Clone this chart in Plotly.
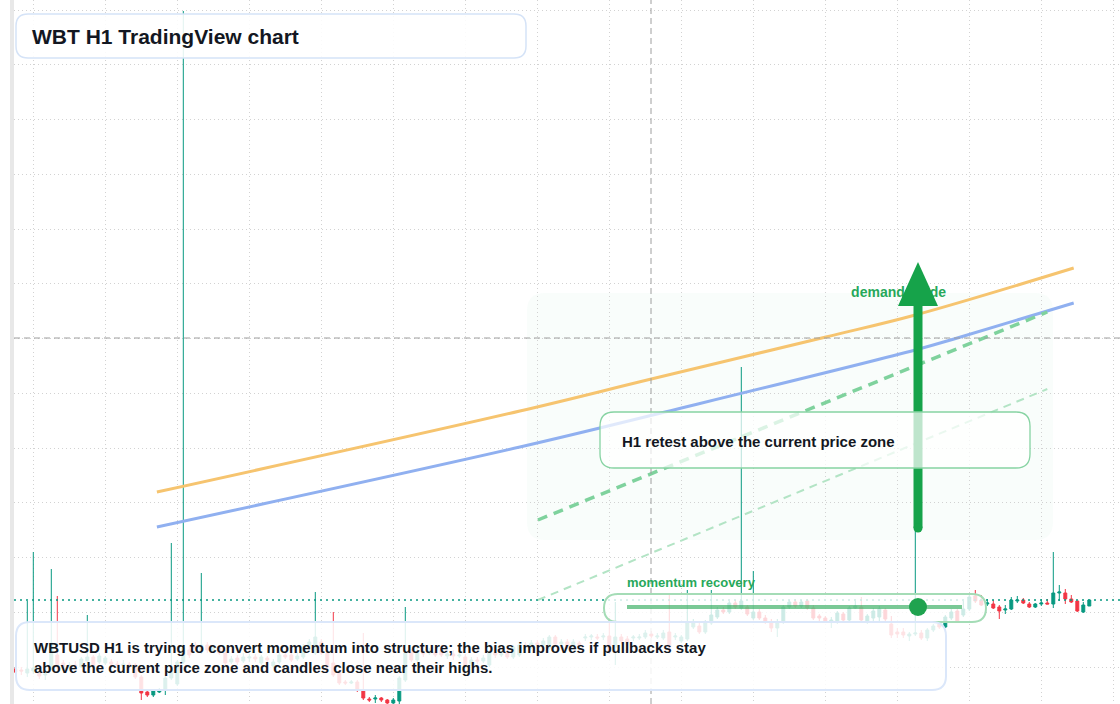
import plotly.graph_objects as go

# ---------------- data (H1 candles, WBTUSD) ----------------
candle_open = [
    54.31, 54.30, 54.27, 54.29, 54.27, 54.25, 54.32, 54.45, 54.37, 54.33,
    54.35, 54.33, 54.39, 54.43, 54.38, 54.37, 54.38, 54.36, 54.34, 54.36,
    54.35, 54.23, 54.08, 54.05, 54.08, 54.10, 54.22, 54.16, 54.38, 54.50,
    54.55, 54.48, 54.55, 54.50, 54.52, 54.47, 54.38, 54.42, 54.39, 54.42,
    54.43, 54.37, 54.42, 54.34, 54.38, 54.45, 54.45, 54.41, 54.43, 54.53,
    54.47, 54.58, 54.47, 54.37, 54.28, 54.18, 54.17, 54.18, 54.10, 54.01,
    54.01, 54.02, 54.00, 53.97, 53.99, 54.20, 54.48, 54.40, 54.48, 54.47,
    54.48, 54.50, 54.44, 54.46, 54.44, 54.43, 54.36, 54.40, 54.39, 54.35,
    54.47, 54.45, 54.48, 54.43, 54.45, 54.55, 54.53, 54.57, 54.55, 54.52,
    54.63, 54.56, 54.58, 54.54, 54.57, 54.62, 54.63, 54.63, 54.63, 54.64,
    54.53, 54.63, 54.61, 54.62, 54.62, 54.63, 54.66, 54.63, 54.62, 54.68,
    54.63, 54.59, 54.61, 54.73, 54.74, 54.68, 54.77, 54.83, 54.90, 54.88,
    54.97, 54.92, 54.93, 54.82, 54.88, 54.82, 54.78, 54.72, 54.78, 54.93,
    54.98, 54.94, 54.99, 54.92, 54.84, 54.82, 54.78, 54.78, 54.86, 54.80,
    54.92, 54.93, 54.78, 54.82, 54.83, 54.90, 54.76, 54.68, 54.68, 54.64,
    54.66, 54.67, 54.62, 54.70, 54.76, 54.73, 54.82, 54.89, 54.85, 54.91,
    55.04, 55.00, 54.96, 54.96, 54.93, 54.90, 54.91, 54.99, 55.00, 54.96,
    54.93, 54.96, 54.97, 54.96, 55.07, 55.07, 55.01, 54.99, 54.88, 54.94,
]
candle_high = [
    54.33, 54.33, 54.99, 55.48, 54.29, 54.29, 55.31, 55.04, 54.40, 54.38,
    54.39, 54.43, 54.85, 54.45, 54.47, 54.44, 54.41, 54.39, 54.40, 54.38,
    54.37, 54.25, 54.10, 54.10, 54.12, 54.24, 55.57, 54.40, 60.89, 54.54,
    54.58, 55.27, 54.58, 54.55, 54.54, 54.50, 54.44, 54.45, 54.47, 54.46,
    54.46, 54.45, 54.44, 54.41, 54.48, 54.48, 54.47, 54.48, 54.56, 54.61,
    55.08, 54.61, 54.50, 54.88, 54.30, 54.20, 54.20, 54.20, 54.67, 54.03,
    54.05, 54.03, 54.01, 54.02, 54.24, 54.93, 54.51, 54.52, 54.50, 54.52,
    54.51, 54.55, 54.49, 54.50, 54.49, 54.46, 54.43, 54.43, 54.45, 54.50,
    54.50, 54.49, 54.51, 54.55, 54.58, 54.58, 54.60, 54.60, 54.62, 54.65,
    54.65, 54.61, 54.61, 54.61, 54.59, 54.66, 54.66, 54.66, 54.67, 54.82,
    54.98, 54.66, 54.64, 54.65, 54.66, 54.70, 54.69, 54.67, 54.70, 55.05,
    54.67, 54.65, 55.10, 54.81, 54.77, 54.80, 55.10, 54.93, 54.93, 54.99,
    55.00, 57.33, 54.95, 55.29, 54.91, 54.85, 54.81, 54.81, 54.95, 55.00,
    55.01, 55.00, 55.01, 54.95, 54.86, 54.84, 54.83, 54.89, 54.88, 54.94,
    54.99, 55.03, 54.86, 54.92, 54.94, 54.92, 54.84, 54.72, 54.72, 54.68,
    55.70, 54.70, 54.72, 54.76, 54.78, 54.85, 54.91, 54.91, 54.99, 55.05,
    55.10, 55.05, 55.01, 55.00, 54.95, 54.95, 55.03, 55.04, 55.02, 54.98,
    54.97, 55.01, 55.01, 55.48, 55.15, 55.11, 55.05, 54.99, 54.98, 55.00,
]
candle_low = [
    54.27, 54.25, 54.23, 54.26, 54.21, 54.20, 54.30, 54.31, 54.30, 54.31,
    54.32, 54.32, 54.37, 54.32, 54.36, 54.35, 54.33, 54.32, 54.32, 54.30,
    54.21, 54.00, 54.03, 54.03, 54.07, 54.05, 54.20, 54.14, 54.36, 54.42,
    54.49, 54.46, 54.47, 54.48, 54.45, 54.34, 54.36, 54.35, 54.37, 54.38,
    54.38, 54.35, 54.37, 54.32, 54.36, 54.41, 54.38, 54.39, 54.41, 54.50,
    54.45, 54.45, 54.31, 54.23, 54.15, 54.15, 54.16, 54.08, 54.00, 53.98,
    53.97, 53.98, 53.96, 53.96, 53.96, 54.18, 54.38, 54.38, 54.43, 54.45,
    54.43, 54.43, 54.41, 54.40, 54.42, 54.33, 54.34, 54.36, 54.37, 54.33,
    54.42, 54.43, 54.41, 54.41, 54.43, 54.50, 54.51, 54.52, 54.53, 54.50,
    54.54, 54.54, 54.51, 54.52, 54.53, 54.59, 54.60, 54.60, 54.60, 54.46,
    54.35, 54.56, 54.56, 54.59, 54.60, 54.61, 54.62, 54.61, 54.60, 54.51,
    54.60, 54.57, 54.59, 54.71, 54.66, 54.66, 54.75, 54.81, 54.86, 54.86,
    54.91, 54.90, 54.84, 54.80, 54.80, 54.76, 54.68, 54.63, 54.76, 54.91,
    54.92, 54.92, 54.90, 54.80, 54.79, 54.77, 54.72, 54.76, 54.78, 54.78,
    54.91, 54.77, 54.76, 54.79, 54.79, 54.77, 54.62, 54.62, 54.62, 54.59,
    54.64, 54.60, 54.59, 54.68, 54.71, 54.72, 54.80, 54.77, 54.83, 54.89,
    54.97, 54.94, 54.94, 54.91, 54.81, 54.86, 54.90, 54.97, 54.96, 54.92,
    54.92, 54.94, 54.96, 54.92, 54.99, 54.96, 54.97, 54.88, 54.87, 54.94,
]
candle_close = [
    54.28, 54.29, 54.31, 54.32, 54.24, 54.26, 54.57, 54.33, 54.33, 54.35,
    54.34, 54.41, 54.43, 54.34, 54.44, 54.42, 54.36, 54.35, 54.36, 54.35,
    54.23, 54.07, 54.05, 54.09, 54.10, 54.22, 54.30, 54.38, 54.52, 54.45,
    54.52, 54.55, 54.50, 54.52, 54.47, 54.37, 54.41, 54.38, 54.43, 54.43,
    54.41, 54.43, 54.40, 54.38, 54.45, 54.43, 54.40, 54.44, 54.53, 54.58,
    54.63, 54.47, 54.33, 54.25, 54.17, 54.17, 54.18, 54.10, 54.02, 54.00,
    54.02, 54.00, 53.97, 54.00, 54.22, 54.47, 54.40, 54.48, 54.46, 54.48,
    54.45, 54.45, 54.46, 54.44, 54.45, 54.35, 54.40, 54.39, 54.42, 54.47,
    54.45, 54.46, 54.43, 54.53, 54.55, 54.53, 54.57, 54.55, 54.59, 54.63,
    54.56, 54.58, 54.53, 54.58, 54.55, 54.63, 54.64, 54.62, 54.64, 54.48,
    54.63, 54.59, 54.58, 54.63, 54.63, 54.67, 54.64, 54.64, 54.67, 54.53,
    54.64, 54.63, 54.78, 54.78, 54.68, 54.78, 54.85, 54.90, 54.88, 54.97,
    54.93, 54.99, 54.86, 54.88, 54.82, 54.78, 54.72, 54.78, 54.93, 54.98,
    54.94, 54.98, 54.92, 54.82, 54.82, 54.79, 54.80, 54.87, 54.80, 54.92,
    54.94, 54.80, 54.84, 54.89, 54.91, 54.81, 54.65, 54.66, 54.65, 54.66,
    54.67, 54.62, 54.70, 54.74, 54.73, 54.83, 54.88, 54.78, 54.91, 55.03,
    54.99, 54.95, 54.97, 54.92, 54.89, 54.91, 55.00, 55.00, 54.97, 54.93,
    54.96, 54.97, 54.96, 55.07, 55.08, 55.01, 54.98, 54.89, 54.95, 55.00,
]
assert len(candle_open) == len(candle_high) == len(candle_low) == len(candle_close) == 180
bar_index = list(range(len(candle_open)))

# projection / average lines (bar index, price)
ema_fast_x = [23.6, 84.1, 106.0, 135.1, 150.0, 176.4]
ema_fast_y = [56.08, 56.89, 57.21, 57.63, 57.85, 58.32]
ema_slow_x = [23.6, 84.1, 108.3, 150.0, 157.0, 176.4]
ema_slow_y = [55.73, 56.53, 56.88, 57.50, 57.62, 57.97]
guide_x = [87.1, 172.0]
guide_upper = [55.80, 57.88]
guide_lower = [55.00, 57.11]

# texts
title_text = "WBT H1 TradingView chart"
note_lines = ["WBTUSD H1 is trying to convert momentum into structure; the bias improves if pullbacks stay",
              "above the current price zone and candles close near their highs."]
retest_text = "H1 retest above the current price zone"
pill_text = "momentum recovery"
guide_text = "demand guide"

# ---------------- figure ----------------
W, H = 1120, 704
ML = 14
FONT = "Liberation Sans, Arial, sans-serif"
DARK = "#131722"
GREEN_TXT = "#27a85a"


def P(x, y):
    """pixel -> paper coords"""
    return (x - ML) / (W - ML), 1 - y / H


def rrect(x0, y0, x1, y1, r):
    def f(x, y):
        a, b = P(x, y)
        return f"{a:.5f},{b:.5f}"
    d = (f"M{f(x0 + r, y0)} L{f(x1 - r, y0)} Q{f(x1, y0)} {f(x1, y0 + r)} "
         f"L{f(x1, y1 - r)} Q{f(x1, y1)} {f(x1 - r, y1)} L{f(x0 + r, y1)} "
         f"Q{f(x0, y1)} {f(x0, y1 - r)} L{f(x0, y0 + r)} Q{f(x0, y0)} {f(x0 + r, y0)} Z")
    return d


fig = go.Figure()

fig.add_trace(go.Scatter(
    x=ema_fast_x, y=ema_fast_y, mode="lines", line=dict(color="#f6c46f", width=3, shape="spline"),
    hoverinfo="skip", showlegend=False))
fig.add_trace(go.Scatter(
    x=ema_slow_x, y=ema_slow_y, mode="lines", line=dict(color="#90b0f0", width=3, shape="spline"),
    hoverinfo="skip", showlegend=False))
fig.add_trace(go.Scatter(
    x=guide_x, y=guide_lower, mode="lines", line=dict(color="#b3e4c5", width=2, dash="8px,6px"),
    hoverinfo="skip", showlegend=False))
fig.add_trace(go.Scatter(
    x=guide_x, y=guide_upper, mode="lines", line=dict(color="#7fd29d", width=3.5, dash="10px,7px"),
    hoverinfo="skip", showlegend=False))

fig.add_trace(go.Candlestick(
    x=bar_index, open=candle_open, high=candle_high, low=candle_low, close=candle_close,
    increasing=dict(line=dict(color="#089981", width=1), fillcolor="#089981"),
    decreasing=dict(line=dict(color="#f23645", width=1), fillcolor="#f23645"),
    whiskerwidth=0, hoverinfo="skip", showlegend=False))

fig.add_trace(go.Scatter(
    x=[139.3], y=[58.07], mode="text", text=[f"<b>{guide_text}</b>"], textposition="middle right",
    textfont=dict(family=FONT, size=14, color=GREEN_TXT), hoverinfo="skip", showlegend=False))

shapes = []
# green demand zone
shapes.append(dict(type="path", xref="paper", yref="paper", path=rrect(527, 293, 1053, 540, 18),
                   fillcolor="rgba(34,197,94,0.028)", line=dict(width=0), layer="between"))
# crosshair
cx0, _ = P(651, 0)
shapes.append(dict(type="line", xref="paper", yref="paper", x0=cx0, x1=cx0, y0=0, y1=1,
                   line=dict(color="#9e9e9e", width=1, dash="6px,4px"), layer="above"))
_, cy0 = P(0, 338)
shapes.append(dict(type="line", xref="paper", yref="paper", x0=0, x1=1, y0=cy0, y1=cy0,
                   line=dict(color="#9e9e9e", width=1, dash="6px,4px"), layer="above"))
# last price line
shapes.append(dict(type="line", xref="paper", yref="y", x0=0, x1=1, y0=candle_close[-1], y1=candle_close[-1],
                   line=dict(color="#089981", width=1.3, dash="2px,4px"), layer="above"))
# arrow
ax, ay_bot = P(918, 528)
_, ay_top = P(918, 300)
shapes.append(dict(type="line", xref="paper", yref="paper", x0=ax, x1=ax, y0=ay_bot, y1=ay_top,
                   line=dict(color="#16a34a", width=9), layer="above"))
c0x, c0y = P(913.5, 523.5)
c1x, c1y = P(922.5, 532.5)
shapes.append(dict(type="circle", xref="paper", yref="paper", x0=c0x, x1=c1x, y0=c1y, y1=c0y,
                   fillcolor="#16a34a", line=dict(width=0), layer="above"))
h1 = P(898, 306); h2 = P(938, 306); h3 = P(918, 262)
shapes.append(dict(type="path", xref="paper", yref="paper",
                   path=f"M{h1[0]:.5f},{h1[1]:.5f} L{h2[0]:.5f},{h2[1]:.5f} L{h3[0]:.5f},{h3[1]:.5f} Z",
                   fillcolor="#16a34a", line=dict(width=0), layer="above"))
# retest box
shapes.append(dict(type="path", xref="paper", yref="paper", path=rrect(600, 412, 1030, 468, 14),
                   fillcolor="rgba(255,255,255,0.72)", line=dict(color="#86d3a2", width=1.3), layer="above"))
# momentum pill
shapes.append(dict(type="path", xref="paper", yref="paper", path=rrect(604, 594, 986, 622, 14),
                   fillcolor="rgba(255,255,255,0.8)", line=dict(color="#a4dcb6", width=2), layer="above"))
l0 = P(627, 607); l1 = P(962, 607)
shapes.append(dict(type="line", xref="paper", yref="paper", x0=l0[0], x1=l1[0], y0=l0[1], y1=l1[1],
                   line=dict(color="rgba(34,165,80,0.6)", width=4), layer="above"))
d0 = P(909, 598); d1 = P(927, 616)
shapes.append(dict(type="circle", xref="paper", yref="paper", x0=d0[0], x1=d1[0], y0=d1[1], y1=d0[1],
                   fillcolor="#1fa34f", line=dict(width=0), layer="above"))
# bottom note box
shapes.append(dict(type="path", xref="paper", yref="paper", path=rrect(16, 622, 946, 690, 14),
                   fillcolor="rgba(255,255,255,0.86)", line=dict(color="#dbe7fa", width=2), layer="above"))
# title box
shapes.append(dict(type="path", xref="paper", yref="paper", path=rrect(16, 14, 526, 58, 12),
                   fillcolor="rgba(255,255,255,0.88)", line=dict(color="#d5e3f7", width=1.5), layer="above"))
# left strip
s0 = P(10, 0); s1 = P(14, 704)
shapes.append(dict(type="rect", xref="paper", yref="paper", x0=s0[0], x1=s1[0], y0=s1[1], y1=s0[1],
                   fillcolor="#e8e8e8", line=dict(width=0), layer="above"))

annotations = []
def add_text(x, y, text, size, color):
    px_, py_ = P(x - 2, y)
    annotations.append(dict(xref="paper", yref="paper", x=px_, y=py_, text=text, showarrow=False,
                            xanchor="left", yanchor="middle", align="left",
                            font=dict(family=FONT, size=size, color=color)))

add_text(32, 36, f"<b>{title_text}</b>", 21, DARK)
add_text(34, 657.5, "<b>" + "<br>".join(note_lines) + "</b>", 15, DARK)
add_text(622, 441, f"<b>{retest_text}</b>", 15, DARK)
add_text(627, 582, f"<b>{pill_text}</b>", 13, GREEN_TXT)

fig.update_layout(
    width=W, height=H,
    margin=dict(l=ML, r=0, t=0, b=0),
    paper_bgcolor="white", plot_bgcolor="white",
    shapes=shapes, annotations=annotations,
    showlegend=False, hovermode=False,
    xaxis=dict(range=[(ML - 15.3) / 6, (W - 15.3) / 6], showgrid=True, gridcolor="#d2d2d2",
               griddash="1px,3px", gridwidth=1, tick0=2.95, dtick=12, showticklabels=False,
               zeroline=False, showline=False, ticks="", rangeslider=dict(visible=False), fixedrange=True),
    yaxis=dict(range=[61.0 - H / 100, 61.0], showgrid=True, gridcolor="#d2d2d2", griddash="1px,3px",
               gridwidth=1, tick0=60.90, dtick=0.5475, showticklabels=False, zeroline=False,
               showline=False, ticks="", fixedrange=True),
)

fig.write_html("out.html", config={"displayModeBar": False},
               post_script="document.body.style.margin='0';document.body.style.overflow='hidden';")
